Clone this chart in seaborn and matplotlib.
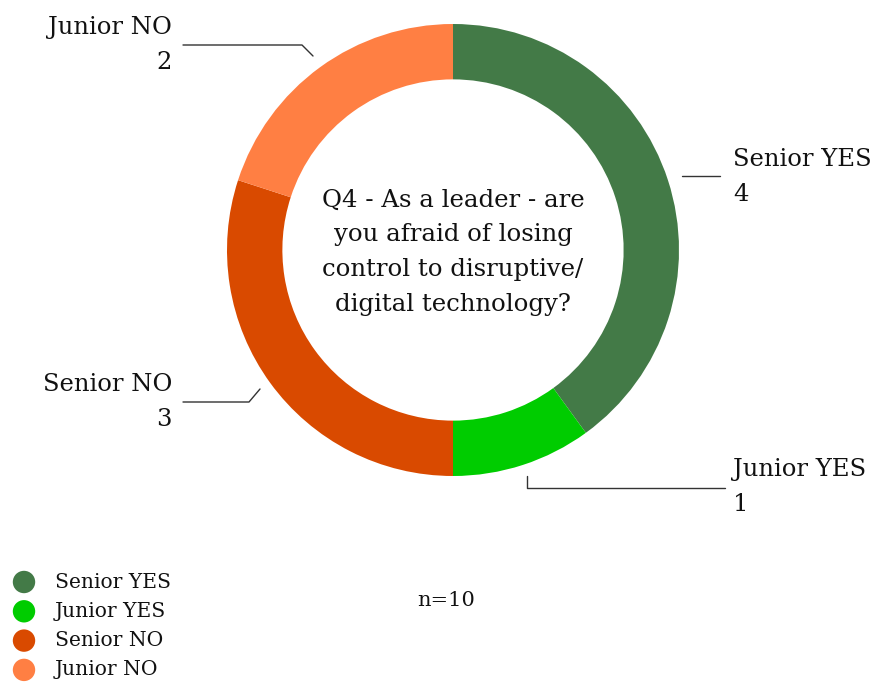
import matplotlib
matplotlib.use("Agg")
import matplotlib.pyplot as plt
import seaborn as sns

# Survey answers
categories = ["Senior YES", "Junior YES", "Senior NO", "Junior NO"]
counts = [4, 1, 3, 2]
colors = ["#437a47", "#00cc00", "#d94a00", "#ff7f43"]
question = "Q4 - As a leader - are\nyou afraid of losing\ncontrol to disruptive/\ndigital technology?"
sample_note = "n=10"

sns.set_theme(style="white")
plt.rcParams["font.family"] = ["DejaVu Serif"]

W, H = 872, 682
fig = plt.figure(figsize=(W / 100, H / 100), dpi=100)
ax = fig.add_axes([0, 0, 1, 1])

cx, cy, R = 453, H - 250, 226
ax.pie(
    counts,
    colors=colors,
    startangle=90,
    counterclock=False,
    center=(cx, cy),
    radius=R,
    wedgeprops=dict(width=R * 0.245, edgecolor="none"),
    frame=True,
)
ax.set_xlim(0, W)
ax.set_ylim(0, H)
ax.set_aspect("equal")
ax.axis("off")

# Centre question
ax.text(cx, H - 252, question, ha="center", va="center", fontsize=17.6,
        linespacing=1.65, color="#111111")

# Callout labels: (text x, text y, alignment, leader polyline)
line_kw = dict(color="#333333", lw=1.0)
callouts = {
    "Senior YES": (733, 177, "left", [(682, 176), (720, 176)]),
    "Junior YES": (733, 487, "left", [(527, 476), (527, 488), (725, 488)]),
    "Senior NO": (172, 402, "right", [(260, 389), (249, 402), (183, 402)]),
    "Junior NO": (172, 45, "right", [(313, 56), (302, 45), (183, 45)]),
}
for name, val in zip(categories, counts):
    tx, ty, ha, pts = callouts[name]
    xs = [p[0] for p in pts]
    ys = [H - p[1] for p in pts]
    ax.plot(xs, ys, **line_kw)
    ax.text(tx, H - ty, f"{name}\n{val}", ha=ha, va="center", fontsize=17.5,
            linespacing=1.65, color="#111111", multialignment=ha)

# Legend
for i, (name, col) in enumerate(zip(categories, colors)):
    y = H - (582 + i * 29.3)
    ax.scatter([24], [y], s=260, color=col, edgecolor="none", zorder=3)
    ax.text(55, y, name, ha="left", va="center", fontsize=14.6, color="#111111")

ax.text(446, H - 600, sample_note, ha="center", va="center", fontsize=15,
        color="#111111")

fig.savefig("out.png", dpi=100)
